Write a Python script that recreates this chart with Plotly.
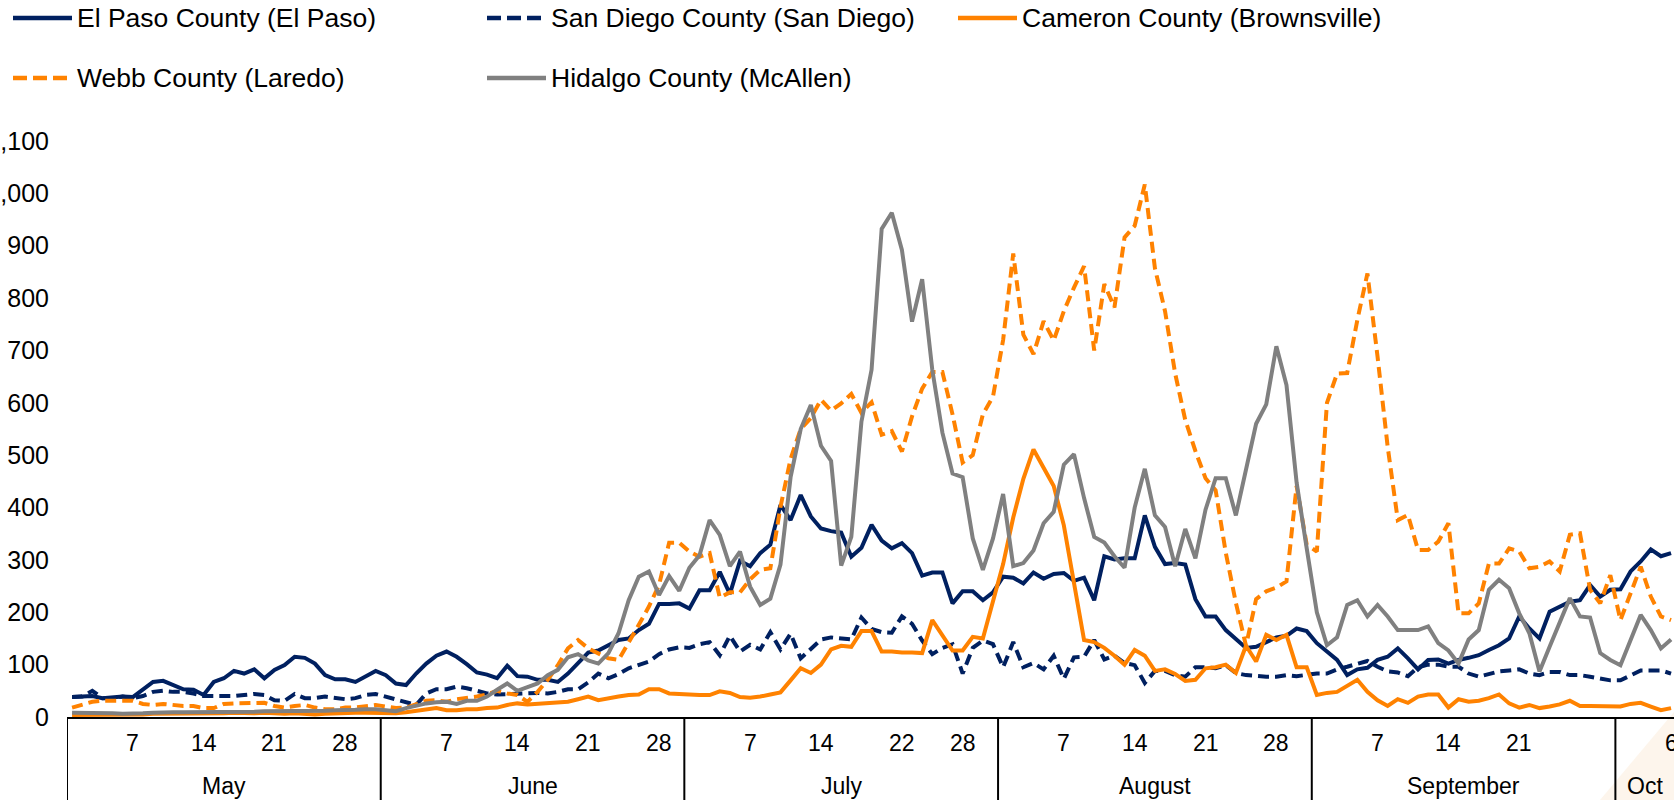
import pandas as pd
import plotly.graph_objects as go

# ---------------- data ----------------
dates = pd.date_range("2020-05-01", "2020-10-06", freq="D")

series_names = [
    "El Paso County (El Paso)",
    "San Diego County (San Diego)",
    "Cameron County (Brownsville)",
    "Webb County (Laredo)",
    "Hidalgo County (McAllen)",
]

el_paso = [
    38, 39, 40, 36, 38, 39, 38, 53, 67, 69, 61, 53, 52, 42, 67, 74, 88, 83, 91, 74, 90, 99, 115, 113, 102, 80, 72, 72, 67, 78, 88,
    80, 64, 61, 83, 102, 117, 125, 115, 101, 85, 81, 74, 98, 78, 77, 71, 71, 67, 83, 104, 123, 127, 136, 147, 150, 166, 178, 216, 216, 217,
    207, 242, 242, 277, 235, 298, 288, 313, 329, 405, 376, 424, 383, 360, 355, 352, 306, 323, 367, 337, 322, 332, 313, 270, 276, 276, 217, 240, 240, 223, 238,
    268, 266, 255, 276, 264, 273, 275, 260, 266, 223, 307, 301, 303, 303, 385, 325, 292, 294, 291, 225, 192, 192, 166, 149, 132, 134, 143, 152, 155, 169, 164,
    141, 125, 109, 80, 91, 94, 109, 115, 131, 112, 91, 109, 110, 102, 109, 113, 118, 128, 137, 150, 192, 169, 150, 201, 211, 220, 223, 252, 230, 243,
    244, 278, 297, 320, 307, 313,
]

san_diego = [
    38, 39, 50, 36, 36, 39, 36, 40, 48, 50, 48, 48, 45, 40, 40, 40, 40, 42, 44, 42, 32, 31, 44, 36, 36, 39, 37, 34, 36, 42, 44,
    39, 34, 29, 23, 45, 53, 53, 58, 55, 50, 45, 43, 44, 45, 46, 46, 45, 48, 53, 53, 66, 83, 74, 82, 93, 99, 106, 120, 129, 133,
    132, 139, 143, 118, 155, 125, 138, 129, 162, 129, 159, 112, 129, 148, 152, 150, 148, 190, 168, 162, 161, 192, 178, 146, 120, 132, 139, 83, 132, 146, 139,
    95, 143, 95, 103, 91, 117, 73, 114, 115, 147, 110, 117, 103, 99, 65, 88, 88, 80, 77, 95, 95, 93, 99, 84, 80, 78, 77, 77, 80, 78, 80,
    83, 83, 91, 96, 102, 107, 96, 87, 85, 78, 95, 100, 100, 96, 96, 83, 77, 83, 87, 89, 91, 83, 80, 86, 86, 80, 80, 77, 74, 70,
    70, 80, 89, 89, 89, 83,
]

cameron = [
    4, 4, 5, 5, 4, 4, 5, 5, 6, 6, 6, 7, 6, 6, 7, 7, 8, 7, 7, 8, 7, 6, 7, 6, 5, 6, 7, 8, 8, 8, 8,
    7, 7, 9, 12, 15, 17, 13, 13, 15, 15, 17, 18, 23, 26, 24, 25, 26, 28, 29, 34, 39, 32, 36, 39, 42, 43, 53, 53, 45, 44,
    42, 42, 42, 49, 46, 38, 37, 39, 43, 47, 70, 93, 84, 100, 129, 136, 134, 164, 164, 125, 125, 123, 123, 122, 185, 155, 127, 127, 153, 150, 222,
    292, 381, 455, 511, 474, 441, 366, 255, 147, 143, 132, 117, 100, 128, 117, 88, 91, 82, 69, 71, 93, 95, 100, 84, 136, 106, 157, 147, 157, 95, 95,
    42, 46, 48, 59, 71, 48, 32, 21, 34, 27, 39, 43, 43, 18, 34, 29, 31, 36, 43, 26, 18, 23, 17, 20, 24, 31, 21, 21, 21, 21,
    20, 25, 27, 20, 13, 17,
]

webb = [
    18, 23, 29, 31, 31, 31, 31, 25, 23, 25, 23, 21, 21, 17, 17, 25, 26, 26, 26, 27, 21, 18, 21, 23, 18, 15, 15, 18, 18, 20, 23,
    20, 17, 18, 25, 31, 32, 29, 34, 36, 39, 43, 50, 45, 42, 29, 48, 71, 99, 131, 147, 131, 122, 112, 109, 141, 176, 211, 252, 333, 333,
    316, 306, 313, 228, 238, 238, 263, 281, 284, 401, 493, 550, 571, 606, 585, 599, 617, 581, 601, 539, 546, 507, 574, 627, 659, 659, 578, 486, 500, 578, 612,
    720, 885, 730, 693, 756, 719, 775, 820, 861, 700, 827, 782, 916, 938, 1017, 857, 775, 656, 567, 508, 456, 433, 314, 218, 136, 225, 240, 247, 259, 441, 329,
    316, 600, 656, 657, 758, 847, 688, 516, 376, 386, 319, 319, 335, 370, 198, 198, 217, 293, 293, 322, 316, 284, 287, 297, 278, 348, 351, 243, 217, 271,
    185, 236, 287, 230, 192, 185,
]

hidalgo = [
    8, 8, 8, 7, 7, 6, 6, 7, 8, 9, 9, 9, 9, 10, 10, 10, 10, 10, 10, 11, 11, 12, 12, 11, 11, 12, 13, 13, 14, 15, 15,
    13, 11, 17, 21, 26, 28, 29, 25, 31, 31, 39, 52, 64, 50, 58, 64, 80, 90, 114, 120, 108, 102, 122, 160, 223, 268, 278, 233, 269, 241,
    285, 309, 376, 348, 288, 316, 249, 214, 226, 291, 458, 550, 596, 518, 489, 289, 344, 564, 663, 932, 963, 892, 755, 836, 663, 543, 465, 458, 341, 281, 341,
    426, 288, 294, 318, 370, 392, 482, 502, 418, 344, 333, 307, 285, 400, 474, 385, 363, 288, 359, 303, 396, 456, 456, 385, 470, 560, 597, 708, 634, 448, 322,
    200, 137, 152, 214, 223, 192, 214, 192, 166, 166, 166, 173, 141, 127, 102, 148, 166, 243, 262, 246, 198, 160, 87, 134, 182, 227, 192, 190, 122, 109,
    99, 147, 195, 166, 131, 148,
]

day_tick_dates = ["2020-05-07", "2020-05-14", "2020-05-21", "2020-05-28",
                  "2020-06-07", "2020-06-14", "2020-06-21", "2020-06-28",
                  "2020-07-07", "2020-07-14", "2020-07-22", "2020-07-28",
                  "2020-08-07", "2020-08-14", "2020-08-21", "2020-08-28",
                  "2020-09-07", "2020-09-14", "2020-09-21",
                  "2020-10-06"]
day_tick_labels = ["7", "14", "21", "28", "7", "14", "21", "28", "7", "14", "22", "28",
                   "7", "14", "21", "28", "7", "14", "21", "6"]
month_names = ["May", "June", "July", "August", "September", "Oct"]
month_starts = ["2020-05-01", "2020-06-01", "2020-07-01", "2020-08-01", "2020-09-01", "2020-10-01"]
y_ticks = list(range(0, 1101, 100))

# ---------------- styling ----------------
NAVY = "#002060"
ORANGE = "#FF8200"
GRAY = "#808080"
DASH = "11px,6px"
LEG_DASH = "14px,6px"
FONT = "Arial, Liberation Sans, sans-serif"
series_colors = [NAVY, NAVY, ORANGE, ORANGE, GRAY]
series_dash = ["solid", DASH, "solid", DASH, "solid"]
legend_dash = ["solid", LEG_DASH, "solid", LEG_DASH, "solid"]
series_values = [el_paso, san_diego, cameron, webb, hidalgo]

W, H = 1674, 800
L, T, B, R = 67, 141, 83, 0
PW, PH = W - L - R, H - T - B

half_day = pd.Timedelta(hours=12)
x_lo = dates[0] - half_day
x_hi = dates[-1] + pd.Timedelta(hours=7)


def px_x(px):
    return (px - L) / PW


def px_y(py):
    return (H - B - py) / PH


fig = go.Figure()
for name, vals, col, dash in zip(series_names, series_values, series_colors, series_dash):
    fig.add_trace(go.Scatter(
        x=dates, y=vals, name=name, mode="lines",
        line=dict(color=col, width=4, dash=dash),
        showlegend=False, hoverinfo="x+y+name",
    ))

shapes = []
annotations = []

# month separators below the axis
bottom_y = px_y(H)
sep_positions = [pd.Timestamp(s) - half_day for s in month_starts]
for xs in sep_positions:
    shapes.append(dict(type="line", xref="x", yref="paper", x0=xs, x1=xs, y0=0, y1=bottom_y,
                       line=dict(color="black", width=2)))

# month labels
bounds = sep_positions + [x_hi]
for i, name in enumerate(month_names):
    mid = bounds[i] + (bounds[i + 1] - bounds[i]) / 2
    annotations.append(dict(x=mid, y=px_y(786), xref="x", yref="paper", text=name,
                            showarrow=False, xanchor="center", yanchor="middle",
                            font=dict(family=FONT, size=23, color="black")))

# day labels
for d, t in zip(day_tick_dates, day_tick_labels):
    annotations.append(dict(x=pd.Timestamp(d), y=px_y(743), xref="x", yref="paper", text=t,
                            showarrow=False, xanchor="center", yanchor="middle",
                            font=dict(family=FONT, size=23, color="black")))

# custom legend
legend_pos = [(13, 18), (487, 18), (958, 18), (13, 78), (487, 78)]
for (lx, ly), name, col, dash in zip(legend_pos, series_names, series_colors, legend_dash):
    shapes.append(dict(type="line", xref="paper", yref="paper",
                       x0=px_x(lx), x1=px_x(lx + 59), y0=px_y(ly), y1=px_y(ly),
                       line=dict(color=col, width=4.5, dash=dash)))
    annotations.append(dict(x=px_x(lx + 62), y=px_y(ly), xref="paper", yref="paper", text=name,
                            showarrow=False, xanchor="left", yanchor="middle",
                            font=dict(family=FONT, size=26.5, color="black")))

# faint decorative corner
shapes.append(dict(type="path", xref="paper", yref="paper", layer="below",
                   path=f"M {px_x(1600)},{px_y(800)} L {px_x(1674)},{px_y(712)} L {px_x(1674)},{px_y(800)} Z",
                   fillcolor="rgba(250,225,200,0.35)", line=dict(width=0)))

fig.update_layout(
    width=W, height=H,
    margin=dict(l=L, r=R, t=T, b=B, pad=0, autoexpand=False),
    paper_bgcolor="white", plot_bgcolor="white",
    shapes=shapes, annotations=annotations,
    showlegend=False,
    xaxis=dict(range=[x_lo, x_hi], showticklabels=False, showgrid=False, zeroline=False,
               showline=True, linecolor="black", linewidth=2, ticks="", automargin=False),
    yaxis=dict(range=[0, 1100], tickvals=y_ticks, ticktext=[f"{v:,}" for v in y_ticks],
               showgrid=False, zeroline=False, showline=False, automargin=False,
               ticks="outside", ticklen=12, tickcolor="rgba(0,0,0,0)",
               tickfont=dict(family=FONT, size=25, color="black")),
)

fig.write_html("out.html", config={"displayModeBar": False},
               post_script="document.body.style.margin='0';")
